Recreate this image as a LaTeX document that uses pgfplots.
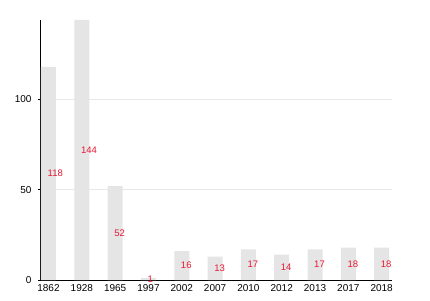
\documentclass[border=0pt]{standalone}
\usepackage{fontspec}
\setmainfont{Liberation Sans}
\usepackage{pgfplots}
\usepackage{pgfplotstable}
\pgfplotsset{compat=1.18}
\definecolor{barg}{RGB}{229,229,229}
\definecolor{gridg}{RGB}{232,232,232}
\definecolor{lblred}{RGB}{232,24,52}
\pgfplotstableread{
x v
0 118
1 144
2 52
3 1
4 16
5 13
6 17
7 14
8 17
9 18
10 18
}\datatable
\begin{document}
\begin{tikzpicture}[x=1pt,y=1pt]
\useasboundingbox (0,0) rectangle (430,300);
\begin{axis}[
  at={(40pt,20pt)}, anchor=south west,
  scale only axis, width=352pt, height=260pt,
  xmin=-0.255, xmax=10.31, ymin=0, ymax=144,
  axis x line=bottom, axis y line=left,
  axis line style={black, line width=0.8pt, -},
  xtick=data,
  xticklabels={1862,1928,1965,1997,2002,2007,2010,2012,2013,2017,2018},
  ytick={0,50,100},
  major x tick style={draw=none},
  major tick length=4pt,
  ytick style={black, line width=0.6pt},
  ymajorgrids, grid style={gridg, line width=0.8pt},
  tick label style={font=\fontsize{10}{12}\selectfont, text=black},
  /pgf/number format/assume math mode=true,
  xticklabel style={yshift=1pt},
  yticklabel style={xshift=-3pt},
  clip=false,
]
\addplot[ybar, bar width=15pt, bar shift=0pt, fill=barg, draw=none]
  table[x=x, y=v] {\datatable};
\addplot[only marks, mark=none,
  nodes near coords, point meta=explicit symbolic,
  nodes near coords style={anchor=west, inner sep=0pt, xshift=-1pt,
    text=lblred, font=\fontsize{9.5}{11}\selectfont}]
  table[x=x, y expr=\thisrow{v}/2, meta=v] {\datatable};
\end{axis}
\end{tikzpicture}
\end{document}
